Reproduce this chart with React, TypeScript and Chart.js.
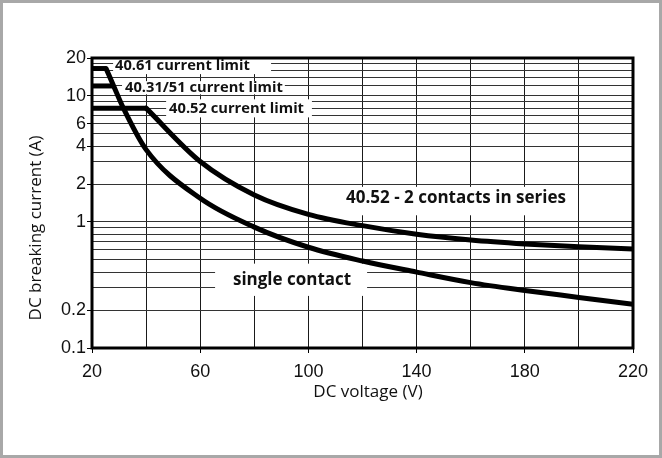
import React, { useEffect, useRef } from 'react';
import { Chart, registerables } from 'chart.js';

Chart.register(...registerables);

// ---- data ----
const voltageGrid = [20, 40, 60, 80, 100, 120, 140, 160, 180, 200, 220];
const voltageLabels = [20, 60, 100, 140, 180, 220];
const currentGrid = [0.1, 0.2, 0.3, 0.4, 0.5, 0.6, 0.7, 0.8, 0.9, 1, 2, 3, 4, 5, 6, 7, 8, 9, 10, 12, 14, 16, 18, 20];
const currentLabels = [0.1, 0.2, 1, 2, 4, 6, 10, 20];

const limit4061V = [20, 25.2];
const limit4061A = [16.5, 16.5];

const limit4031V = [20, 28];
const limit4031A = [12, 12];

const limit4052V = [20, 40];
const limit4052A = [8, 8];

const singleV = [25.2, 28, 31.6, 40, 60, 80, 100, 120, 140, 160, 180, 200, 220];
const singleA = [16.5, 12, 8, 3.75, 1.54, 0.91, 0.63, 0.49, 0.4, 0.33, 0.286, 0.252, 0.222];

const seriesV = [40, 60, 80, 100, 120, 140, 160, 180, 200, 220];
const seriesA = [8, 3.02, 1.64, 1.15, 0.935, 0.8, 0.72, 0.67, 0.635, 0.61];

const annotationTexts = [
  '40.61 current limit',
  '40.31/51 current limit',
  '40.52 current limit',
  '40.52 - 2 contacts in series',
  'single contact',
];

const xTitle = 'DC voltage (V)';
const yTitle = 'DC breaking current (A)';

// ---- layout of the annotation boxes (data coordinates) ----
const annotationLayout = [
  { box: [27.8, 86.2, 14.9, 20], at: [28.5, 17.4], size: 14.7 },
  { box: [31.1, 91.3, 10.3, 13.1], at: [32.2, 11.5], size: 14.7 },
  { box: [47.4, 101.3, 6.76, 9.4], at: [48.5, 7.97], size: 14.7 },
  { box: [108, 197.5, 1.13, 1.9], at: [113.9, 1.54], size: 17 },
  { box: [65.5, 121.7, 0.259, 0.467], at: [72.1, 0.348], size: 17 },
];

const zip = (xs: number[], ys: number[]) => xs.map((x, i) => ({ x, y: ys[i] }));

const TICK_FONT = '"Liberation Sans", Arial, sans-serif';
const TEXT_FONT = '"Open Sans", "Noto Sans", sans-serif';

const decorPlugin = {
  id: 'decor',
  beforeDraw(chart: any) {
    const { ctx, width, height } = chart;
    ctx.save();
    ctx.fillStyle = '#ffffff';
    ctx.fillRect(0, 0, width, height);
    ctx.restore();
  },
  beforeDatasetsDraw(chart: any) {
    const { ctx } = chart;
    const xs = chart.scales.x;
    const ys = chart.scales.y;
    ctx.save();
    ctx.fillStyle = '#ffffff';
    annotationLayout.forEach((a) => {
      const x0 = xs.getPixelForValue(a.box[0]);
      const x1 = xs.getPixelForValue(a.box[1]);
      const y0 = ys.getPixelForValue(a.box[3]);
      const y1 = ys.getPixelForValue(a.box[2]);
      ctx.fillRect(x0, y0, x1 - x0, y1 - y0);
    });
    ctx.restore();
  },
  afterDatasetsDraw(chart: any) {
    const { ctx } = chart;
    const xs = chart.scales.x;
    const ys = chart.scales.y;
    ctx.save();
    ctx.fillStyle = '#111111';
    ctx.textAlign = 'left';
    ctx.textBaseline = 'middle';
    annotationLayout.forEach((a, i) => {
      ctx.font = `bold ${a.size}px ${TEXT_FONT}`;
      ctx.fillText(annotationTexts[i], xs.getPixelForValue(a.at[0]), ys.getPixelForValue(a.at[1]));
    });
    ctx.restore();
  },
  afterDraw(chart: any) {
    const { ctx, chartArea, width, height } = chart;
    ctx.save();
    // chart frame
    ctx.strokeStyle = '#000000';
    ctx.lineWidth = 3;
    ctx.strokeRect(chartArea.left, chartArea.top, chartArea.right - chartArea.left, chartArea.bottom - chartArea.top);
    // outer frame
    ctx.strokeStyle = '#a8a8a8';
    ctx.lineWidth = 3;
    ctx.strokeRect(1.5, 1.5, width - 3, height - 3);
    // axis titles
    ctx.fillStyle = '#111111';
    ctx.font = `17px ${TEXT_FONT}`;
    ctx.textAlign = 'center';
    ctx.textBaseline = 'middle';
    ctx.fillText(xTitle, 368, 392);
    ctx.translate(36, 228);
    ctx.rotate(-Math.PI / 2);
    ctx.fillText(yTitle, 0, 0);
    ctx.restore();
  },
};

export default function App() {
  const ref = useRef<HTMLCanvasElement | null>(null);

  useEffect(() => {
    if (!ref.current) return;
    const line = (pts: { x: number; y: number }[], smooth: boolean) => ({
      data: pts,
      borderColor: '#000000',
      backgroundColor: '#000000',
      borderWidth: 5,
      pointRadius: 0,
      fill: false,
      borderCapStyle: smooth ? 'round' : 'butt',
      borderJoinStyle: 'round',
      cubicInterpolationMode: smooth ? 'monotone' : 'default',
      tension: 0,
    });

    const chart = new Chart(ref.current, {
      type: 'line',
      data: {
        datasets: [
          line(zip(limit4061V, limit4061A), false),
          line(zip(limit4031V, limit4031A), false),
          line(zip(limit4052V, limit4052A), false),
          line(zip(singleV, singleA), true),
          line(zip(seriesV, seriesA), true),
        ] as any,
      },
      plugins: [decorPlugin],
      options: {
        animation: false,
        responsive: false,
        devicePixelRatio: 1,
        events: [],
        layout: { padding: { left: 0, top: 58, right: 29, bottom: 0 } },
        plugins: { legend: { display: false }, tooltip: { enabled: false } },
        scales: {
          x: {
            type: 'linear',
            min: 20,
            max: 220,
            afterBuildTicks: (s: any) => {
              s.ticks = voltageGrid.map((v) => ({ value: v }));
            },
            afterFit: (s: any) => {
              s.height = 110;
            },
            border: { display: false },
            grid: {
              color: '#1a1a1a',
              lineWidth: 1,
              drawTicks: true,
              tickLength: 5,
              tickColor: (c: any) => (c.tick && voltageLabels.includes(c.tick.value) ? '#000000' : 'rgba(0,0,0,0)'),
            },
            ticks: {
              autoSkip: false,
              maxRotation: 0,
              padding: 8,
              color: '#111111',
              font: { family: TICK_FONT, size: 18 },
              callback: (v: any) => (voltageLabels.includes(Number(v)) ? String(v) : ''),
            },
          },
          y: {
            type: 'logarithmic',
            min: 0.1,
            max: 20,
            afterBuildTicks: (s: any) => {
              s.ticks = currentGrid.map((v) => ({ value: v }));
            },
            afterFit: (s: any) => {
              s.width = 92;
            },
            border: { display: false },
            grid: {
              color: '#333333',
              lineWidth: 1,
              drawTicks: true,
              tickLength: 5,
              tickColor: (c: any) => (c.tick && currentLabels.includes(c.tick.value) ? '#000000' : 'rgba(0,0,0,0)'),
            },
            ticks: {
              autoSkip: false,
              padding: 1,
              color: '#111111',
              font: { family: TICK_FONT, size: 18 },
              callback: (v: any) => (currentLabels.includes(Number(v)) ? String(v) : ''),
            },
          },
        },
      } as any,
    });
    return () => chart.destroy();
  }, []);

  return (
    <div style={{ position: 'fixed', left: 0, top: 0, width: 662, height: 458 }}>
      <canvas ref={ref} width={662} height={458} style={{ width: 662, height: 458, display: 'block' }} />
    </div>
  );
}
